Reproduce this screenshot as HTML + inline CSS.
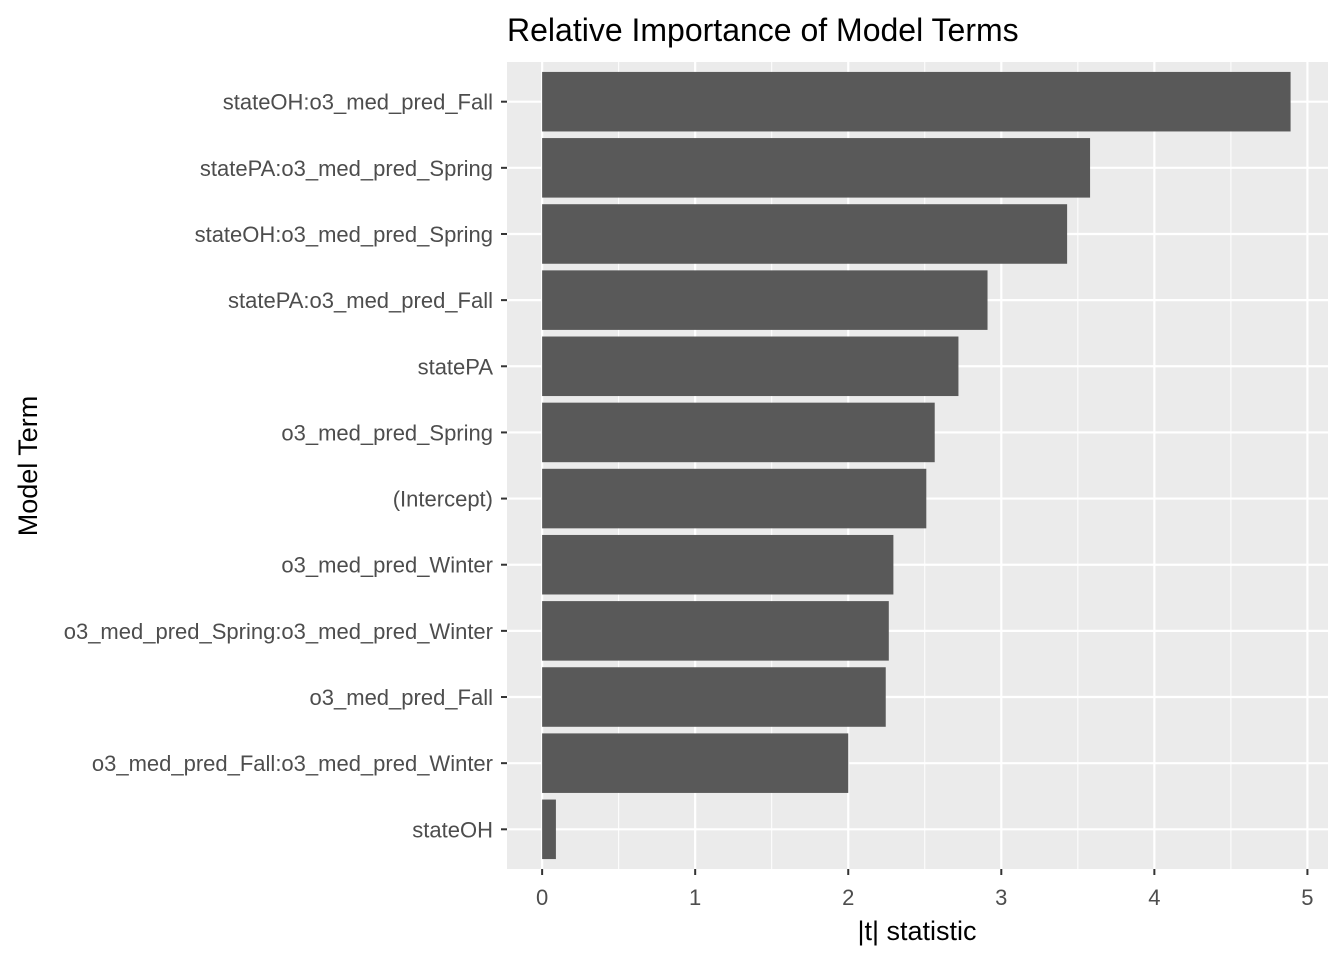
<!DOCTYPE html>
<html><head><meta charset="utf-8"><style>
body{margin:0;background:#fff;}
svg{display:block;font-family:"Liberation Sans",Arial,sans-serif;}
</style></head><body>
<svg id="chart" width="1344" height="960">
<rect x="507" y="62" width="821" height="807" fill="#ebebeb"/>
<g id="grid"></g><g id="bars"></g><g id="yaxis"></g><g id="xaxis"></g>
<text x="507" y="41" font-size="32" fill="#000">Relative Importance of Model Terms</text>
<text x="917" y="940" font-size="27" text-anchor="middle" fill="#000">|t| statistic</text>
<text transform="translate(37,466) rotate(-90)" font-size="27" text-anchor="middle" fill="#000">Model Term</text>
</svg>
<script>
const categories=["stateOH:o3_med_pred_Fall","statePA:o3_med_pred_Spring","stateOH:o3_med_pred_Spring","statePA:o3_med_pred_Fall","statePA","o3_med_pred_Spring","(Intercept)","o3_med_pred_Winter","o3_med_pred_Spring:o3_med_pred_Winter","o3_med_pred_Fall","o3_med_pred_Fall:o3_med_pred_Winter","stateOH"];
const values=[4.89,3.58,3.43,2.91,2.72,2.565,2.51,2.295,2.265,2.245,2.0,0.09];
const xTicks=[0,1,2,3,4,5];
const NS="http://www.w3.org/2000/svg";
const px0=507,px1=1328,py0=62,py1=869;
const xmin=-0.2295,xmax=5.1345;
const x=v=>px0+(v-xmin)/(xmax-xmin)*(px1-px0);
const n=categories.length;
const step=(py1-py0)/(n-1+1.2);
const y=i=>py0+step*(0.6+i);
function mk(t,a,p){const e=document.createElementNS(NS,t);for(const k in a)e.setAttribute(k,a[k]);p.appendChild(e);return e;}
const grid=document.getElementById('grid'),bars=document.getElementById('bars'),ya=document.getElementById('yaxis'),xa=document.getElementById('xaxis');
for(let i=0;i<xTicks.length-1;i++){const l=mk('line',{x1:x(xTicks[i]+0.5),x2:x(xTicks[i]+0.5),y1:py0,y2:py1,stroke:'#fff','stroke-width':1},grid);

}
xTicks.forEach(t=>{const l=mk('line',{x1:x(t),x2:x(t),y1:py0,y2:py1,stroke:'#fff','stroke-width':2.2},grid);


const tk=mk('line',{x1:x(t),x2:x(t),y1:py1,y2:py1+6,stroke:'#333','stroke-width':2},xa);


const tx=mk('text',{x:x(t),y:py1+36,'font-size':22,'text-anchor':'middle',fill:'#4d4d4d'},xa);
tx.textContent=t;

});
categories.forEach((c,i)=>{const gl=mk('line',{x1:px0,x2:px1,y1:y(i),y2:y(i),stroke:'#fff','stroke-width':2.2},grid);


const bh=step*0.9;
const r=mk('rect',{x:x(0),y:y(i)-bh/2,width:x(values[i])-x(0),height:bh,fill:'#595959'},bars);


const tk=mk('line',{x1:px0-6,x2:px0,y1:y(i),y2:y(i),stroke:'#333','stroke-width':2},ya);


const tx=mk('text',{x:px0-14,y:y(i)+8,'font-size':22,'text-anchor':'end',fill:'#4d4d4d'},ya);
tx.textContent=c;

});
</script>
</body></html>
